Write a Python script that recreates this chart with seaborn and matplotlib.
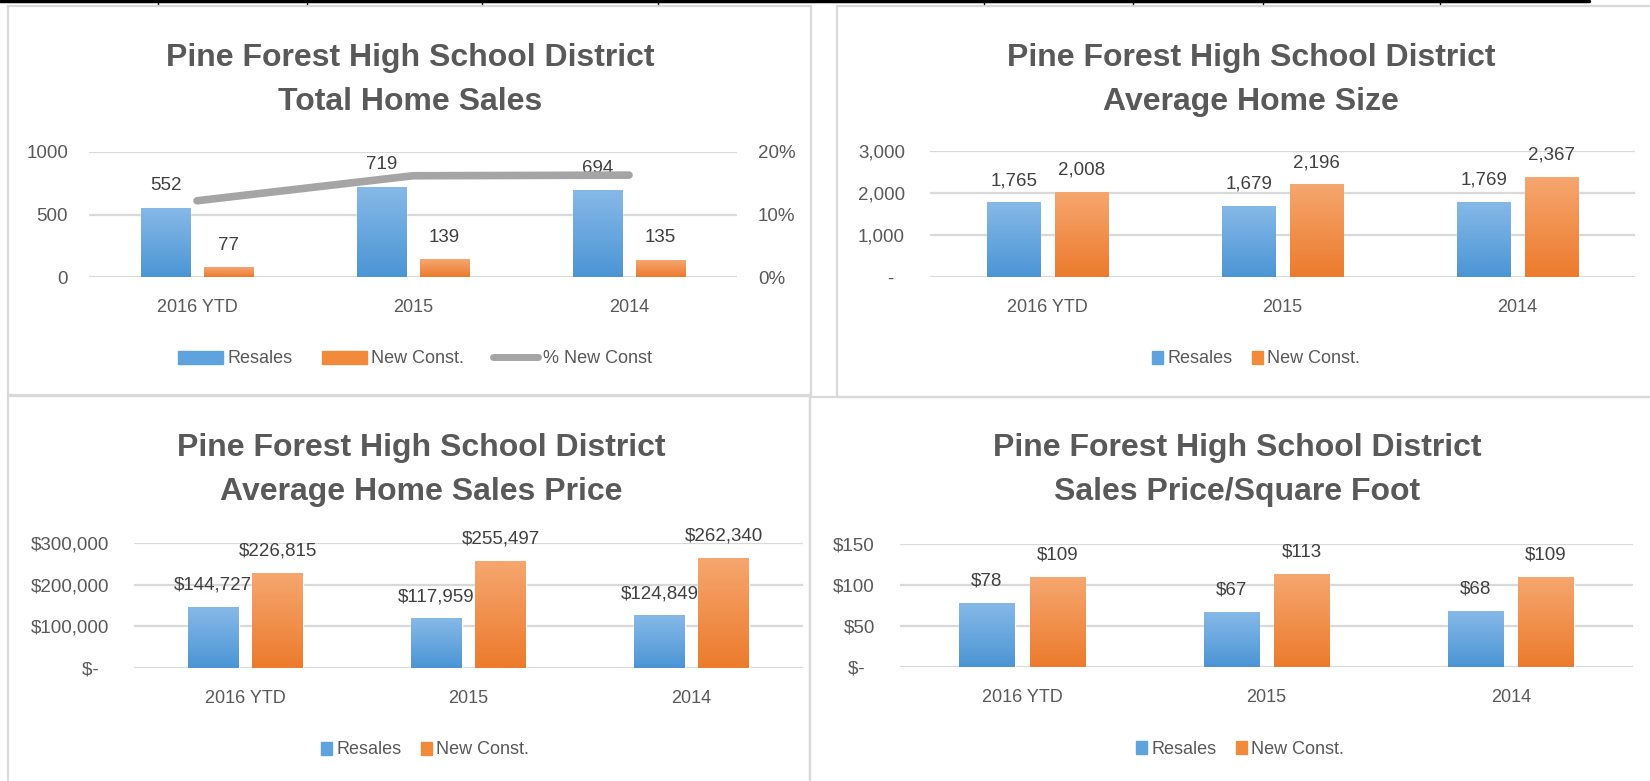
import numpy as np
import pandas as pd
import seaborn as sns
import matplotlib.pyplot as plt
from matplotlib.patches import Patch, Rectangle
from matplotlib.lines import Line2D
from matplotlib.colors import LinearSegmentedColormap

# data
years = ["2016 YTD", "2015", "2014"]
sales_resale = [552, 719, 694]
sales_new = [77, 139, 135]
pct_new = [12.2, 16.2, 16.3]
size_resale = [1765, 1679, 1769]
size_new = [2008, 2196, 2367]
price_resale = [144727, 117959, 124849]
price_new = [226815, 255497, 262340]
ppsf_resale = [78, 67, 68]
ppsf_new = [109, 113, 109]

sns.set_style("white")
plt.rcParams["font.family"] = ["Liberation Sans", "DejaVu Sans"]

W, H = 1650, 781
GRID = "#D9D9D9"
TXT = "#595959"
LBL = "#404040"
BLUE = "#5FA3DE"
ORANGE = "#F28A3C"
blue_cmap = LinearSegmentedColormap.from_list("b", ["#4B95D5", "#86B9E8"])
orange_cmap = LinearSegmentedColormap.from_list("o", ["#EC7B2C", "#F6A66F"])

fig = plt.figure(figsize=(W / 100, H / 100), dpi=100)


def px_axes(x0, x1, y0, y1):
    return fig.add_axes([x0 / W, 1 - y1 / H, (x1 - x0) / W, (y1 - y0) / H])


def draw_panel(x0, x1, y0, y1, resale, new, ymax, ticks, ticklabels, fmt, tpad):
    ax = px_axes(x0, x1, y0, y1)
    df = pd.DataFrame({
        "year": years * 2,
        "value": list(resale) + list(new),
        "type": ["Resales"] * 3 + ["New Const."] * 3,
    })
    sns.barplot(data=df, x="year", y="value", hue="type", ax=ax,
                palette=[BLUE, ORANGE], width=0.576, gap=0.21,
                legend=False, zorder=3)
    # gradient fill over each bar
    for p in list(ax.patches):
        bx, by = p.get_x(), p.get_y()
        bw, bh = p.get_width(), p.get_height()
        if bh <= 0:
            continue
        fc = p.get_facecolor()
        cmap = blue_cmap if fc[2] > fc[0] else orange_cmap
        grad = np.linspace(0, 1, 100).reshape(-1, 1)
        ax.imshow(grad, extent=[bx, bx + bw, by, by + bh], origin="lower",
                  aspect="auto", cmap=cmap, zorder=4)
        ax.annotate(fmt(by + bh), (bx + bw / 2, by + bh), xytext=(0, 16),
                    textcoords="offset points", ha="center", va="center",
                    fontsize=13.5, color=LBL, zorder=6)
    ax.set_xlim(-0.5, 2.5)
    ax.set_ylim(0, ymax)
    ax.set_yticks(ticks)
    ax.set_yticklabels(ticklabels)
    ax.set_xlabel("")
    ax.set_ylabel("")
    for s in ax.spines.values():
        s.set_visible(False)
    ax.grid(axis="y", color=GRID, lw=1.6, zorder=0)
    ax.set_axisbelow(True)
    ax.tick_params(axis="y", length=0, pad=tpad, labelsize=13.5, labelcolor=TXT)
    ax.tick_params(axis="x", length=0, pad=16, labelsize=13, labelcolor=TXT)
    ax.patch.set_alpha(0)
    return ax


def titles(cx, y1, y2, sub):
    fig.text(cx / W, 1 - y1 / H, "Pine Forest High School District", ha="center",
             va="center", fontsize=23, fontweight="bold", color=TXT)
    fig.text(cx / W, 1 - y2 / H, sub, ha="center", va="center",
             fontsize=23, fontweight="bold", color=TXT)


def legend(ax, cx, cy, handles, labels, hl, cs):
    ax.legend(handles, labels, loc="center", bbox_to_anchor=(cx / W, 1 - cy / H),
              bbox_transform=fig.transFigure, ncol=len(handles), frameon=False,
              fontsize=13, labelcolor=TXT, handlelength=hl, handleheight=0.72,
              handletextpad=0.25, columnspacing=cs)


# panel borders and top line
for (bx0, bx1, by0, by1) in [(8, 811, 6, 395), (837, 1660, 6, 397),
                             (8, 810, 396, 800), (810, 1660, 397, 800)]:
    fig.add_artist(Rectangle((bx0 / W, 1 - by1 / H), (bx1 - bx0) / W, (by1 - by0) / H,
                             transform=fig.transFigure, fill=False,
                             edgecolor=GRID, lw=1.6))
fig.add_artist(Line2D([0, 1589 / W], [1 - 1 / H, 1 - 1 / H], color="black", lw=2.5))
for tx in [158, 307, 482, 658, 984, 1133, 1263, 1440]:
    fig.add_artist(Line2D([tx / W, tx / W], [1, 1 - 4 / H], color="black", lw=1))

# panel 1: total home sales
ax1 = draw_panel(89, 737, 152, 277, sales_resale, sales_new, 1000,
                 [0, 500, 1000], ["0", "500", "1000"], lambda v: f"{v:.0f}", 15)
ax1b = ax1.twinx()
sns.lineplot(x=[0, 1, 2], y=pct_new, ax=ax1b, color="#A5A5A5", lw=5.5,
             solid_capstyle="round", zorder=5)
ax1b.set_ylim(0, 20)
ax1b.set_yticks([0, 10, 20])
ax1b.set_yticklabels(["0%", "10%", "20%"])
ax1b.set_ylabel("")
for s in ax1b.spines.values():
    s.set_visible(False)
ax1b.tick_params(axis="y", length=0, pad=15, labelsize=13.5, labelcolor=TXT)
titles(410, 58, 102, "Total Home Sales")
legend(ax1b, 415, 359,
       [Patch(color=BLUE), Patch(color=ORANGE), Line2D([], [], color="#A5A5A5", lw=5)],
       ["Resales", "New Const.", "% New Const"], 2.5, 1.6)

# panel 2: average home size
ax2 = draw_panel(930, 1635, 151, 277, size_resale, size_new, 3000,
                 [0, 1000, 2000, 3000], ["-  ", "1,000", "2,000", "3,000"],
                 lambda v: f"{v:,.0f}", 18)
titles(1251, 58, 102, "Average Home Size")
legend(ax2, 1256, 359, [Patch(color=BLUE), Patch(color=ORANGE)],
       ["Resales", "New Const."], 0.6, 1.1)

# panel 3: average sales price
ax3 = draw_panel(134, 803, 543, 668, price_resale, price_new, 300000,
                 [0, 100000, 200000, 300000],
                 ["$-  ", "$100,000", "$200,000", "$300,000"],
                 lambda v: f"${v:,.0f}", 18)
titles(421, 448, 492, "Average Home Sales Price")
legend(ax3, 425, 750, [Patch(color=BLUE), Patch(color=ORANGE)],
       ["Resales", "New Const."], 0.6, 1.1)

# panel 4: price per square foot
ax4 = draw_panel(900, 1633, 544, 667, ppsf_resale, ppsf_new, 150,
                 [0, 50, 100, 150], ["$-  ", "$50", "$100", "$150"],
                 lambda v: f"${v:,.0f}", 18)
titles(1237, 448, 492, "Sales Price/Square Foot")
legend(ax4, 1240, 749, [Patch(color=BLUE), Patch(color=ORANGE)],
       ["Resales", "New Const."], 0.6, 1.1)

plt.savefig("out.png", dpi=100)
